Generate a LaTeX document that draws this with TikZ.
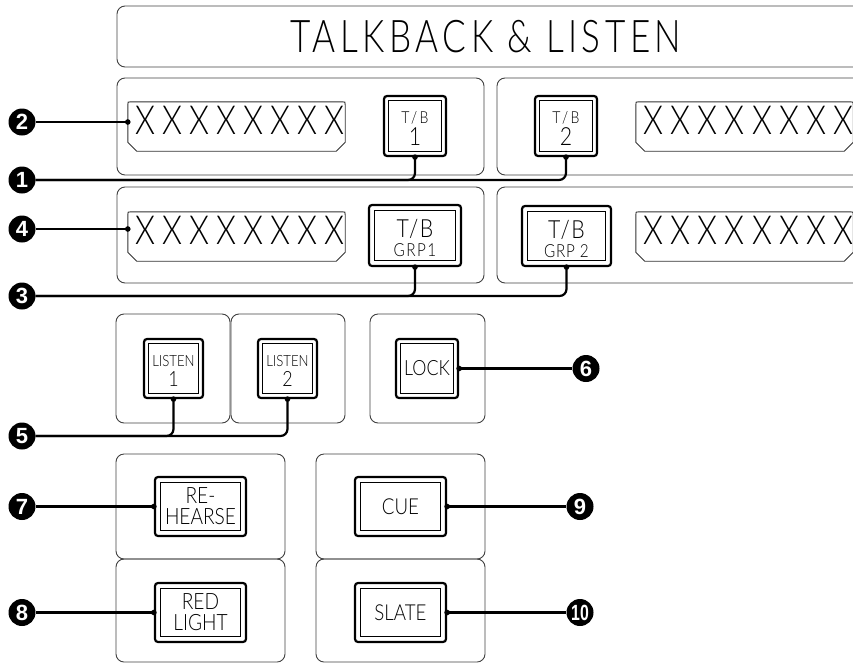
\documentclass[tikz,border=0pt]{standalone}
\usepackage{fontspec}
\usepackage{graphicx}
\setmainfont{Liberation Sans}
\IfFontExistsTF{Lato Light}{\def\lightname{Lato Light}}{\def\lightname{Liberation Sans}}
\newfontfamily\lblfont[FakeStretch=0.85]{\lightname}
\newfontfamily\dispfont[FakeStretch=0.8,LetterSpace=18]{\lightname}
\newfontfamily\titlefont[FakeStretch=0.78,LetterSpace=10]{\lightname}
\newfontfamily\numfont{Liberation Sans}
\newcommand\drawinnerbox[2][6]{\draw[btninner] ([shift={(#1,#1)}]#2.north west) rectangle ([shift={(-#1,-#1)}]#2.south east);}
\newcommand\dispoutline[1]{\draw[displine] ([shift={(0,-9)}]#1.south west) -- ([shift={(0,3)}]#1.north west) .. controls (#1.north west) .. ([shift={(3,0)}]#1.north west) -- ([shift={(-3,0)}]#1.north east) .. controls (#1.north east) .. ([shift={(0,3)}]#1.north east) -- ([shift={(0,-9)}]#1.south east) -- ([shift={(-9,0)}]#1.south east) -- ([shift={(9,0)}]#1.south west) -- cycle;}
\newcommand\condot[1]{\fill (#1) circle[radius=2.8pt];}
\begin{document}
\begin{tikzpicture}[x=1pt,y=-1pt,
  panel/.style={draw=black!75,line width=0.9pt,rounded corners=8pt},
  dispn/.style={minimum width=217pt,minimum height=49pt,inner sep=0pt},
  displine/.style={draw=black!80,line width=0.9pt},
  disptext/.style={font={\dispfont\fontsize{40}{40}\selectfont},inner sep=0pt},
  btn/.style n args={2}{draw,line width=2.2pt,rounded corners=3pt,minimum width=#1,minimum height=#2,inner sep=0pt,align=center,font={\lblfont\fontsize{21}{22}\selectfont}},
  btninner/.style={line width=0.9pt},
  callout/.style={circle,fill=black,minimum size=27pt,inner sep=0pt,text=white,font={\numfont\bfseries\fontsize{22}{22}\selectfont}},
  conn/.style={line width=2.2pt},
]
\useasboundingbox (0,0) rectangle (853,664);

% title
\draw[panel] (117,6) rectangle (900,67);
\node[font={\titlefont\fontsize{45}{45}\selectfont},inner sep=0pt] (title) at (486,37) {TALKBACK \& LISTEN};

% panels
\draw[panel] (117,78) rectangle (484,175);
\draw[panel] (497,78) rectangle (900,175);
\draw[panel] (117,187) rectangle (484,283);
\draw[panel] (497,187) rectangle (900,283);
\draw[panel] (116,314) rectangle (230,423);
\draw[panel] (231,314) rectangle (345,423);
\draw[panel] (370,314) rectangle (485,423);
\draw[panel] (116,454) rectangle (285,559);
\draw[panel] (116,559) rectangle (285,662);
\draw[panel] (316,454) rectangle (485,559);
\draw[panel] (316,559) rectangle (485,662);

% displays
\node[dispn] (d1) at (236.5,126.5) {};
\node[dispn] (d2) at (744.5,126.5) {};
\node[dispn] (d3) at (236.5,236.5) {};
\node[dispn] (d4) at (744.5,236.5) {};
\dispoutline{d1}\dispoutline{d2}\dispoutline{d3}\dispoutline{d4}
\node[disptext] (d1t) at (240,120.5) {XXXXXXXX};
\node[disptext] (d2t) at (748.5,120.5) {XXXXXXXX};
\node[disptext] (d3t) at (240,230.5) {XXXXXXXX};
\node[disptext] (d4t) at (748.5,230.5) {XXXXXXXX};

% buttons
\node[btn={62pt}{60pt},font={\lblfont\fontsize{16.5}{22}\selectfont}] (tb1) at (415,126)
  {\rule{0pt}{17pt}{\addfontfeature{LetterSpace=15}T/B}\\{\fontsize{25}{22}\selectfont 1}};
\node[btn={62pt}{60pt},font={\lblfont\fontsize{16.5}{22}\selectfont}] (tb2) at (566,126)
  {\rule{0pt}{17pt}{\addfontfeature{LetterSpace=15}T/B}\\{\fontsize{25}{22}\selectfont 2}};
\node[btn={92pt}{61pt},font={\lblfont\fontsize{25}{19}\selectfont}] (grp1) at (415,235.5)
  {\rule{0pt}{24pt}{\addfontfeature{LetterSpace=6}T/B}\\{\fontsize{18}{19}\selectfont\addfontfeature{LetterSpace=8}GRP1}};
\node[btn={89pt}{60pt},font={\lblfont\fontsize{25}{19}\selectfont}] (grp2) at (566.5,236)
  {\rule{0pt}{24pt}{\addfontfeature{LetterSpace=6}T/B}\\{\fontsize{18}{19}\selectfont\addfontfeature{LetterSpace=4}GRP 2}};
\node[btn={59pt}{59pt},font={\lblfont\fontsize{15.5}{20}\selectfont}] (lis1) at (173.5,368.5)
  {\rule{0pt}{16pt}LISTEN\\{\fontsize{21}{20}\selectfont 1}};
\node[btn={59pt}{59pt},font={\lblfont\fontsize{15.5}{20}\selectfont}] (lis2) at (287.5,368.5)
  {\rule{0pt}{16pt}LISTEN\\{\fontsize{21}{20}\selectfont 2}};
\node[btn={62pt}{59pt}] (lock) at (427,368.5) {LOCK};
\node[btn={91pt}{59pt},font={\lblfont\fontsize{22.5}{21}\selectfont}] (reh) at (200.5,506.5) {RE-\\HEARSE};
\node[btn={91pt}{59pt},font={\lblfont\fontsize{22.5}{21}\selectfont}] (red) at (200.5,612.5) {RED\\LIGHT};
\node[btn={91pt}{59pt},font={\lblfont\fontsize{22}{21}\selectfont}] (cue) at (400.5,506.5) {CUE};
\node[btn={91pt}{59pt},font={\lblfont\fontsize{22}{21}\selectfont}] (slate) at (400.5,612.5) {SLATE};
\foreach \b in {tb1,tb2,lis1,lis2,lock}{\drawinnerbox{\b}}
\foreach \b in {grp1,grp2,reh,red,cue,slate}{\drawinnerbox[6.5]{\b}}

% callouts
\node[callout] (c2) at (22,122) {2};
\node[callout] (c1) at (22,180) {1};
\node[callout] (c4) at (22,229) {4};
\node[callout] (c3) at (22,296) {3};
\node[callout] (c6) at (586,368.5) {6};
\node[callout] (c5) at (22,436) {5};
\node[callout] (c7) at (22,506.5) {7};
\node[callout] (c8) at (22,612.5) {8};
\node[callout] (c9) at (580,506.5) {9};
\node[callout] (c10) at (580,612.5) {\scalebox{0.72}[1]{10}};

% connectors
\draw[conn] (c2.east) -- (c2 -| d1.west); \condot{c2 -| d1.west}
\draw[conn] (c4.east) -- (c4 -| d3.west); \condot{c4 -| d3.west}
\draw[conn,rounded corners=7pt] (c1.east) -| (tb1.south);
\draw[conn,rounded corners=7pt] (c1.east) -| (tb2.south);
\condot{tb1.south}\condot{tb2.south}
\draw[conn,rounded corners=7pt] (c3.east) -| (grp1.south);
\draw[conn,rounded corners=7pt] (c3.east) -| (grp2.south);
\condot{grp1.south}\condot{grp2.south}
\draw[conn,rounded corners=7pt] (c5.east) -| (lis1.south);
\draw[conn,rounded corners=7pt] (c5.east) -| (lis2.south);
\condot{lis1.south}\condot{lis2.south}
\draw[conn] (lock.east) -- (c6.west); \condot{lock.east}
\draw[conn] (c7.east) -- (reh.west); \condot{reh.west}
\draw[conn] (c8.east) -- (red.west); \condot{red.west}
\draw[conn] (cue.east) -- (c9.west); \condot{cue.east}
\draw[conn] (slate.east) -- (c10.west); \condot{slate.east}
\end{tikzpicture}
\end{document}
